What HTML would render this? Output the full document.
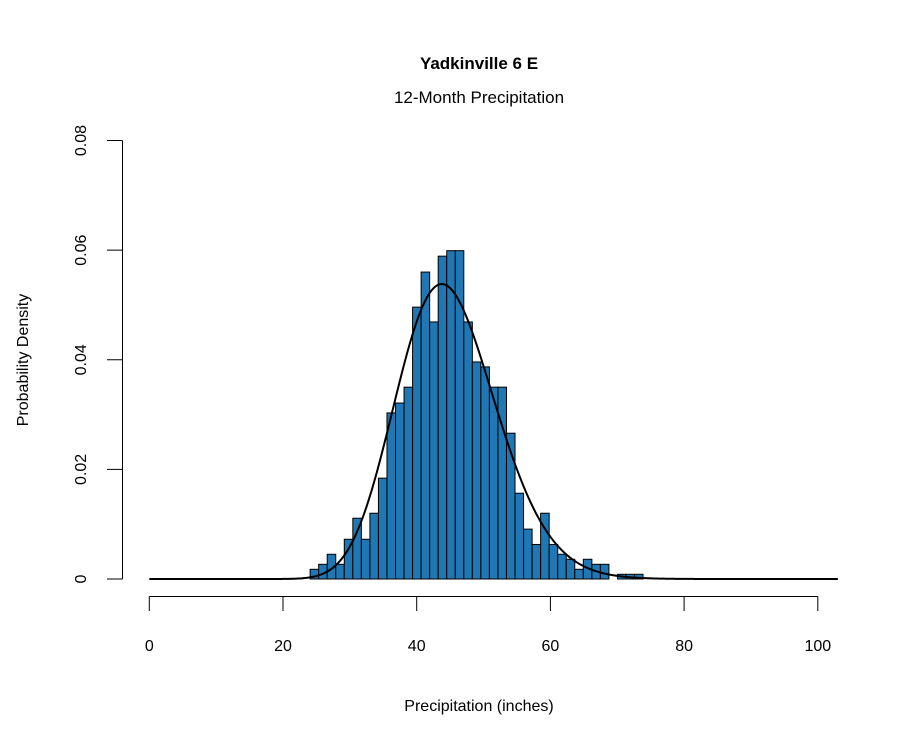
<!DOCTYPE html>
<html><head><meta charset="utf-8"><style>
html,body{margin:0;padding:0;background:#fff;}
svg text{font-family:"Liberation Sans",Arial,sans-serif;}
</style></head><body>
<svg id="chart" width="900" height="750" viewBox="0 0 900 750" xmlns="http://www.w3.org/2000/svg">
<text x="479" y="69" text-anchor="middle" font-size="17" font-weight="bold">Yadkinville 6 E</text>
<text x="479" y="103" text-anchor="middle" font-size="17">12-Month Precipitation</text>
<text x="479" y="711" text-anchor="middle" font-size="16">Precipitation (inches)</text>
<text x="28" y="360" text-anchor="middle" font-size="16" transform="rotate(-90 28 360)">Probability Density</text>
<g id="bars"></g>
<g id="axes"></g>
<path id="curve" fill="none" stroke="#000" stroke-width="2"/>
</svg>
<script>
const binStart = 24.06;
const binWidth = 1.277;
const densities = [0.00177,0.00268,0.00451,0.00268,0.00725,0.01109,0.00725,0.0120,0.0184,0.0303,0.0321,0.0350,0.0496,0.0560,0.0469,0.0589,0.0599,0.0599,0.0469,0.0396,0.0387,0.0350,0.0350,0.0266,0.01565,0.0091,0.0063,0.0120,0.0063,0.00451,0.0036,0.00177,0.0036,0.00268,0.00268,0,0.00086,0.00086,0.00086];
const xTicks = [0,20,40,60,80,100];
const yTicks = [0,0.02,0.04,0.06,0.08];
const yTickLabels = ["0","0.02","0.04","0.06","0.08"];
const curveShape = 36;
const curveScale = 1.25;
const curveRange = [0,103];

const NS="http://www.w3.org/2000/svg";
const xs = v => 149.3 + v*6.685;
const ys = v => 579 - v*5481;
const bars=document.getElementById('bars');
densities.forEach((d,i)=>{
  if(d<=0) return;
  const r=document.createElementNS(NS,'rect');
  const x0=xs(binStart+i*binWidth), x1=xs(binStart+(i+1)*binWidth);
  r.setAttribute('x',x0);r.setAttribute('width',x1-x0);
  r.setAttribute('y',ys(d));r.setAttribute('height',ys(0)-ys(d));
  r.setAttribute('fill','#1f77b4');r.setAttribute('stroke','#000');r.setAttribute('stroke-width','1');
  
  
  bars.appendChild(r);
});
const axes=document.getElementById('axes');
function line(x1,y1,x2,y2,name){
  const l=document.createElementNS(NS,'line');
  l.setAttribute('x1',x1);l.setAttribute('y1',y1);l.setAttribute('x2',x2);l.setAttribute('y2',y2);
  l.setAttribute('stroke','#000');l.setAttribute('stroke-width','1');
  
  
  axes.appendChild(l);
}
line(xs(xTicks[0]),596.5,xs(xTicks[xTicks.length-1]),596.5,'x-axis-line');
xTicks.forEach(t=>{
  line(xs(t),596.5,xs(t),611,'x-tick');
  const tx=document.createElementNS(NS,'text');
  tx.setAttribute('x',xs(t));tx.setAttribute('y',651);tx.setAttribute('text-anchor','middle');tx.setAttribute('font-size','16');
  tx.textContent=t;
  
  
  axes.appendChild(tx);
});
line(122.5,ys(yTicks[0]),122.5,ys(yTicks[yTicks.length-1]),'y-axis-line');
yTicks.forEach((t,i)=>{
  line(107,ys(t),122.5,ys(t),'y-tick');
  const tx=document.createElementNS(NS,'text');
  const y=ys(t);
  tx.setAttribute('x',86);tx.setAttribute('y',y);tx.setAttribute('text-anchor','middle');tx.setAttribute('font-size','16');
  tx.setAttribute('transform','rotate(-90 86 '+y+')');
  tx.textContent=yTickLabels[i];
  
  
  axes.appendChild(tx);
});
let lg=0; for(let i=2;i<curveShape;i++) lg+=Math.log(i);
function gammaPdf(x){
  if(x<=0) return 0;
  return Math.exp((curveShape-1)*Math.log(x)-x/curveScale-lg-curveShape*Math.log(curveScale));
}
let dstr='';
for(let v=curveRange[0]; v<=curveRange[1]+1e-9; v+=0.25){
  const dens=gammaPdf(v);
  dstr+=(dstr?'L':'M')+xs(v).toFixed(2)+','+ys(dens).toFixed(2);
}
document.getElementById('curve').setAttribute('d',dstr);
</script>
</body></html>
